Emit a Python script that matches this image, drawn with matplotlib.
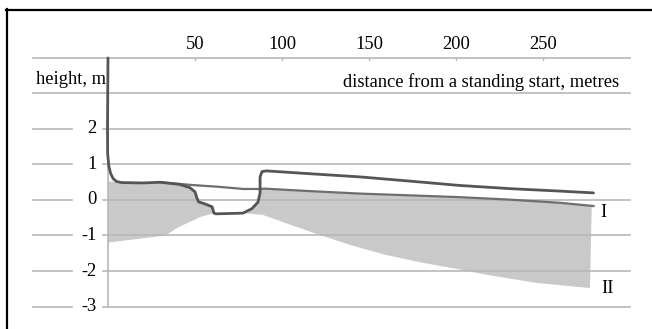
import matplotlib
matplotlib.use("Agg")
import matplotlib.pyplot as plt
import numpy as np

# run line (dark), distance in m vs height in m
run_x = [0, -0.3, -0.2, 0.5, 1.5, 3, 5, 8, 20, 30, 41, 47, 50, 51.1, 52, 55.7, 59.8,
         60.9, 62, 77.6, 82.8, 86.2, 87.4, 87.4, 88.5, 91, 116, 145, 174, 202, 231, 260, 279]
run_y = [4.0, 2.0, 1.3, 0.95, 0.75, 0.6, 0.52, 0.49, 0.48, 0.5, 0.44, 0.35, 0.23, 0.06, -0.05,
         -0.11, -0.19, -0.37, -0.39, -0.37, -0.24, -0.06, 0.2, 0.65, 0.8, 0.82, 0.74, 0.65,
         0.53, 0.41, 0.32, 0.25, 0.20]

# curve I
c1_x = [30, 49, 64, 78, 87.4, 90, 116, 145, 174, 202, 231, 260, 279]
c1_y = [0.5, 0.42, 0.37, 0.31, 0.31, 0.32, 0.25, 0.18, 0.13, 0.08, 0.01, -0.08, -0.17]

# shaded zone, left part
left_top_x = [0, 30, 41, 47, 50, 51.1, 52, 55.7, 59.8, 60.9]
left_top_y = [0.52, 0.5, 0.44, 0.35, 0.23, 0.06, -0.05, -0.11, -0.19, -0.37]
left_bot_x = [0, 33, 40, 53, 60.9]
left_bot_y = [-1.2, -1.0, -0.78, -0.48, -0.37]

# shaded zone, right part (bottom edge is curve II)
right_top_x = [77.6, 82.8, 86.2, 87.4, 87.4, 90, 116, 145, 174, 202, 231, 260, 278]
right_top_y = [-0.37, -0.24, -0.06, 0.2, 0.31, 0.32, 0.25, 0.18, 0.13, 0.08, 0.01, -0.08, -0.17]
c2_x = [77.6, 89, 105, 122, 140, 160, 180, 198, 218, 247, 277]
c2_y = [-0.37, -0.42, -0.7, -0.99, -1.28, -1.55, -1.76, -1.92, -2.11, -2.34, -2.48]

x_ticks = [50, 100, 150, 200, 250]
y_ticks = [2, 1, 0, -1, -2, -3]
grid_levels = [4, 3, 2, 1, 0, -1, -2, -3]

plt.rcParams['font.family'] = ['Liberation Serif', 'DejaVu Serif']
fs = 13.3

fig = plt.figure(figsize=(6.52, 3.29), dpi=100)
ax = fig.add_axes([0, 0, 1, 1])
ax.set_xlim(-108 / 1.74, 544 / 1.74)
ax.set_ylim(-129 / 35.5, 200 / 35.5)
ax.axis('off')

grid_c = '#b8b8b8'
for lv in grid_levels:
    if lv in y_ticks:
        ax.plot([-43, -20.5], [lv, lv], color=grid_c, lw=1.2)
        ax.plot([-3, 300], [lv, lv], color=grid_c, lw=1.2)
        ax.text(-6.5, lv, str(lv), ha='right', va='center', fontsize=fs)
    else:
        ax.plot([-43, 300], [lv, lv], color=grid_c, lw=1.2)
ax.plot([0, 0], [-3, 4], color=grid_c, lw=1.2)

for t in x_ticks:
    ax.plot([t, t], [4, 3.94], color=grid_c, lw=1)
    ax.text(t, 4.37, str(t), ha='center', va='center', fontsize=fs)

ax.fill(left_top_x + left_bot_x[::-1], left_top_y + left_bot_y[::-1],
        color='#c9c9c9', lw=0)
ax.fill(right_top_x + c2_x[::-1], right_top_y + c2_y[::-1],
        color='#c9c9c9', lw=0)

ax.plot(c1_x, c1_y, color='#6e6e6e', lw=1.6, solid_joinstyle='round')
ax.plot(run_x, run_y, color='#555555', lw=2, solid_joinstyle='round',
        solid_capstyle='round')

ax.text(-41.4, 3.4, 'height, m', ha='left', va='center', fontsize=fs)
ax.text(294, 3.33, 'distance from a standing start, metres', ha='right',
        va='center', fontsize=fs)
ax.text(284.5, -0.34, 'I', ha='center', va='center', fontsize=fs)
ax.text(287, -2.48, 'II', ha='center', va='center', fontsize=fs)

# frame (left and top edges visible)
fig.add_artist(plt.Line2D([6.5 / 652, 6.5 / 652], [0, 1 - 9 / 329],
                          color='black', lw=1.6, transform=fig.transFigure))
fig.add_artist(plt.Line2D([6 / 652, 1], [1 - 9.5 / 329, 1 - 9.5 / 329],
                          color='black', lw=1.6, transform=fig.transFigure))

fig.savefig('out.png', dpi=100)
